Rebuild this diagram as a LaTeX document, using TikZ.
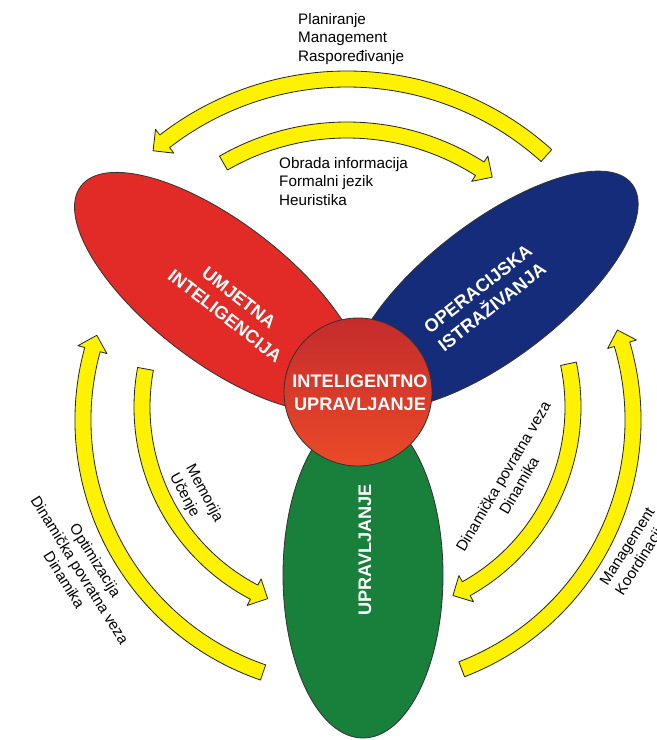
\documentclass[tikz,border=0pt]{standalone}
\usepackage{fontspec}
\setmainfont{Liberation Sans}
\usepackage{xcolor}
\usepackage{tikz}
\usetikzlibrary{calc}

\definecolor{umjred}{RGB}{226,43,38}
\definecolor{opblue}{RGB}{20,44,122}
\definecolor{upgreen}{RGB}{24,128,58}
\definecolor{ctop}{RGB}{196,44,44}
\definecolor{cbot}{RGB}{234,74,40}
\definecolor{arryellow}{RGB}{255,242,0}

% thick yellow arc arrow: center, radius, tail angle, tip angle
\newcommand{\yarrow}[4]{%
  \pgfmathsetmacro{\arrsgn}{(#4>#3) ? 1 : -1}%
  \pgfmathsetmacro{\arrneck}{#4-(\arrsgn)*15/#2*180/pi}%
  \pgfmathsetmacro{\arrro}{#2+8}%
  \pgfmathsetmacro{\arrri}{#2-8}%
  \pgfmathsetmacro{\arrbo}{#2+15}%
  \pgfmathsetmacro{\arrbi}{#2-15}%
  \draw[band,shift={#1}] (#3:\arrro) arc[start angle=#3,end angle=\arrneck,radius=\arrro]
    -- (\arrneck:\arrbo) -- (#4:#2) -- (\arrneck:\arrbi) -- (\arrneck:\arrri)
    arc[start angle=\arrneck,end angle=#3,radius=\arrri] -- cycle;}

\begin{document}
\begin{tikzpicture}[x=0.3mm,y=0.3mm,line join=round,
  band/.style={fill=arryellow,draw=black!85,line width=0.7pt},
  blob/.style={draw=black!80,line width=0.7pt},
  bigtxt/.style={text=white,font=\fontsize{15.5}{19.5}\selectfont\bfseries,align=center,inner sep=0pt},
  lbl/.style={font=\fontsize{13}{15.7}\selectfont,inner sep=0pt}]
  \useasboundingbox (0,0) rectangle (657,740);

  % three fields
  \draw[blob,fill=upgreen] (363,165) ellipse [x radius=80,y radius=163];
  \draw[blob,fill=umjred,rotate around={-37.5:(219,448)}] (219,448) ellipse [x radius=174,y radius=70];
  \draw[blob,fill=opblue,rotate around={37.5:(494,450)}] (494,450) ellipse [x radius=174,y radius=68];
  \node (iu) [circle,blob,minimum size=44.4mm,top color=ctop,bottom color=cbot] at (358,348) {};

  \node (ui) [bigtxt,rotate=-38] at (232,433) {UMJETNA\\INTELIGENCIJA};
  \node (oi) [bigtxt,rotate=38] at (485,442) {OPERACIJSKA\\ISTRAŽIVANJA};
  \node (up) [bigtxt,rotate=90] at (365,190) {UPRAVLJANJE};
  \node (iutxt) [bigtxt] at (360,347) {INTELIGENTNO\\UPRAVLJANJE};

  % arrows
  \yarrow{(347,363)}{298}{48}{130.6}
  \yarrow{(347,363)}{247}{120}{54}
  \yarrow{(350,320)}{267}{251}{161.5}
  \yarrow{(351,333)}{209}{169.5}{246.5}
  \yarrow{(365,333)}{208}{12}{-65}
  \yarrow{(366,320)}{267}{-69}{19.7}

  % labels
  \node (plan) [lbl,anchor=north west,align=left] at (298,727) {Planiranje\\Management\\Raspoređivanje};
  \node (obr) [lbl,anchor=north west,align=left] at (279,583) {Obrada informacija\\Formalni jezik\\Heuristika};
  \node (mem) [lbl,align=left,rotate=-62] at (196,242) {Memorija\\Učenje};
  \node (opt) [lbl,align=center,rotate=-58] at (80,170) {Optimizacija\\Dinamička povratna veza\\Dinamika};
  \node (din) [lbl,align=center,rotate=59.5] at (511,259) {Dinamička povratna veza\\Dinamika};
  \node (mk) [lbl,align=left,rotate=57.6] at (636,188) {Management\\Koordinacija};
\end{tikzpicture}
\end{document}
